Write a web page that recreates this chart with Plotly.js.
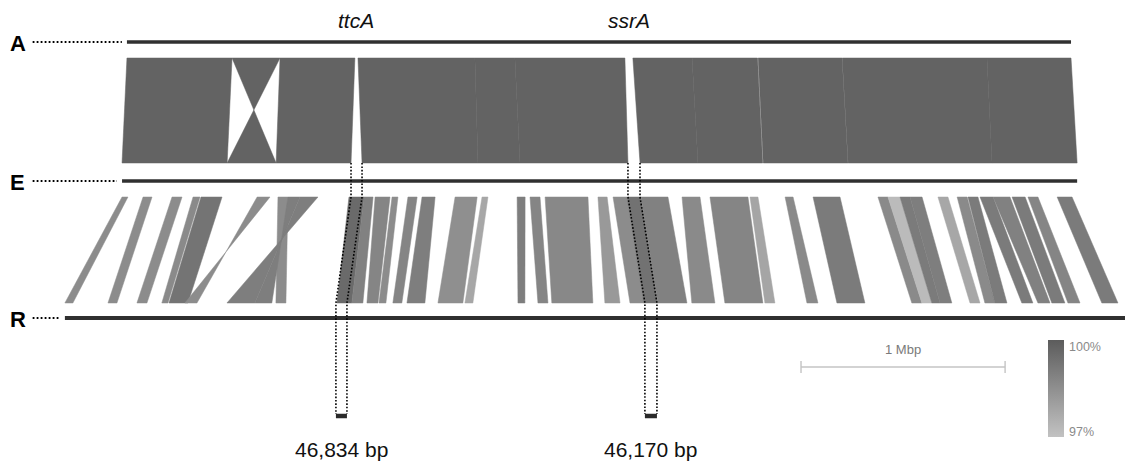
<!DOCTYPE html>
<html><head><meta charset="utf-8">
<script src="https://cdn.plot.ly/plotly-3.0.1.min.js"></script>
<style>html,body{margin:0;padding:0;background:#fff}#chart{width:1125px;height:465px}</style>
</head><body><div id="chart"></div>
<script>
// ---------------- DATA ----------------
const genomeNames = ['A', 'E', 'R'];
const genomeLengthKb = [4626, 4680, 5200];

// A vs E alignment blocks (kb along each genome)
const aeStartA = [0, 515, 750, 1132, 1705, 1901, 2479, 2769, 3093, 3505, 4214];
const aeEndA   = [515, 750, 1117, 1705, 1901, 2440, 2769, 3090, 3504, 4214, 4626];
const aeStartE = [0, 515, 755, 1176, 1744, 1950, 2538, 2822, 3142, 3558, 4263];
const aeEndE   = [515, 755, 1122, 1744, 1950, 2479, 2822, 3139, 3557, 4263, 4680];
const aeInverted = [0, 1, 0, 0, 0, 0, 0, 0, 0, 0, 0];
const aeIdentity = [99.8, 99.8, 99.8, 99.8, 99.8, 99.8, 99.8, 99.8, 99.8, 99.8, 99.8];

// E vs R alignment blocks (kb along each genome)
const erStartE = [0, 103, 245, 348, 387, 662, 764, 813, 872, 1112, 1186, 1240, 1323, 1401, 1470, 1632, 1764, 1936, 1999, 2073, 2332, 2406, 2475, 2543, 2744, 2881, 3077, 3249, 3386, 3704, 3753, 3812, 3861, 3998, 4092, 4145, 4204, 4268, 4361, 4439, 4582];
const erEndE   = [29, 147, 294, 382, 490, 725, 813, 872, 960, 1186, 1230, 1313, 1352, 1446, 1534, 1740, 1793, 1975, 2048, 2283, 2377, 2475, 2543, 2675, 2832, 3067, 3116, 3288, 3518, 3753, 3812, 3861, 3920, 4047, 4141, 4194, 4268, 4351, 4425, 4488, 4655];
const erStartR = [0, 211, 353, 475, 510, 588, 1034, 931, 794, 1333, 1406, 1480, 1539, 1607, 1676, 1828, 1960, 2220, 2318, 2386, 2646, 2769, 2837, 2906, 3072, 3234, 3430, 3636, 3783, 4150, 4199, 4248, 4288, 4435, 4508, 4557, 4689, 4768, 4836, 4915, 5081];
const erEndR   = [39, 255, 402, 505, 603, 647, 1083, 1014, 931, 1406, 1460, 1534, 1573, 1651, 1764, 1950, 1999, 2254, 2367, 2587, 2720, 2837, 2906, 3048, 3185, 3420, 3479, 3690, 3920, 4199, 4248, 4288, 4346, 4484, 4557, 4616, 4743, 4827, 4900, 4974, 5160];
const erInverted = [0, 0, 0, 0, 0, 1, 0, 1, 1, 0, 0, 0, 0, 0, 0, 0, 0, 0, 0, 0, 0, 0, 0, 0, 0, 0, 0, 0, 0, 0, 0, 0, 0, 0, 0, 0, 0, 0, 0, 0, 0];
const erIdentity = [98.6, 98.6, 98.6, 98.65, 99.3, 98.6, 98.6, 99.0, 99.0, 99.6, 98.9, 98.8, 98.6, 98.8, 99.0, 98.5, 97.8, 99.0, 98.8, 98.7, 98.2, 98.6, 99.35, 98.9, 98.65, 98.8, 97.85, 98.65, 99.1, 98.65, 97.2, 99.1, 99.0, 97.8, 98.65, 99.1, 99.1, 98.9, 99.1, 98.8, 99.1];

// genomic islands
const islandNames = ['ttcA', 'ssrA'];
const islandSizeLabels = ['46,834 bp', '46,170 bp'];
const islandStartA = [1117, 2440];
const islandEndA   = [1132, 2479];
const islandStartE = [1122, 2479];
const islandEndE   = [1176, 2538];
const islandStartR = [1328, 2842];
const islandEndR   = [1382, 2901];

const scaleBarKb = 1000;
const scaleBarLabel = '1 Mbp';
const identityRange = [97, 100];
const identityTickLabels = ['97%', '100%'];

// ---------------- LAYOUT CONSTANTS ----------------
const KB_PER_PX = 4.9;
const X_MAX = 1125 * KB_PER_PX;
const genomeOffsetKb = [622, 598, 318];
const genomeY = [42, 181, 318];
const genomeLineW = [3.4, 3.4, 3.8];
const bandAE = [58, 163];
const bandER = [197, 303];
const barY = 416;
const FONT = 'Liberation Sans, Arial, Helvetica, sans-serif';
const grayLow = 194, grayHigh = 92;

function idColor(v) {
  const t = Math.max(0, Math.min(1, (v - identityRange[0]) / (identityRange[1] - identityRange[0])));
  const g = Math.round(grayLow + (grayHigh - grayLow) * t);
  return 'rgb(' + g + ',' + g + ',' + g + ')';
}

const traces = [];
function band(sA, eA, sB, eB, inv, idv, offTop, offBot, yTop, yBot) {
  const xs = inv ? [offTop + sA, offTop + eA, offBot + sB, offBot + eB, offTop + sA]
                 : [offTop + sA, offTop + eA, offBot + eB, offBot + sB, offTop + sA];
  traces.push({
    type: 'scatter', mode: 'lines', x: xs, y: [yTop, yTop, yBot, yBot, yTop],
    fill: 'toself', fillcolor: idColor(idv), line: {width: 0.5, color: idColor(idv)},
    hoverinfo: 'skip'
  });
}
for (let i = 0; i < aeStartA.length; i++) {
  band(aeStartA[i], aeEndA[i], aeStartE[i], aeEndE[i], aeInverted[i], aeIdentity[i],
       genomeOffsetKb[0], genomeOffsetKb[1], bandAE[0], bandAE[1]);
}
for (let i = 0; i < erStartE.length; i++) {
  band(erStartE[i], erEndE[i], erStartR[i], erEndR[i], erInverted[i], erIdentity[i],
       genomeOffsetKb[1], genomeOffsetKb[2], bandER[0], bandER[1]);
}

// genome lines
for (let g = 0; g < 3; g++) {
  traces.push({type: 'scatter', mode: 'lines',
    x: [genomeOffsetKb[g], genomeOffsetKb[g] + genomeLengthKb[g]], y: [genomeY[g], genomeY[g]],
    line: {color: '#303030', width: genomeLineW[g]}, hoverinfo: 'skip'});
  // leader dotted line
  traces.push({type: 'scatter', mode: 'lines',
    x: [160, genomeOffsetKb[g] - 25], y: [genomeY[g], genomeY[g]],
    line: {color: '#000', width: 1.8, dash: '1.8px,2.2px'}, hoverinfo: 'skip'});
}

// island dotted guides and bars
for (let k = 0; k < islandNames.length; k++) {
  const pairs = [[islandStartE[k], islandStartR[k]], [islandEndE[k], islandEndR[k]]];
  pairs.forEach(p => {
    const xe = genomeOffsetKb[1] + p[0], xr = genomeOffsetKb[2] + p[1];
    traces.push({type: 'scatter', mode: 'lines',
      x: [xe, xe, xr, xr], y: [bandAE[1], bandER[0], bandER[1], barY - 2],
      line: {color: '#000', width: 1.6, dash: '1.6px,1.8px'}, hoverinfo: 'skip'});
  });
  traces.push({type: 'scatter', mode: 'lines',
    x: [genomeOffsetKb[2] + islandStartR[k], genomeOffsetKb[2] + islandEndR[k]], y: [barY, barY],
    line: {color: '#2a2a2a', width: 4.5}, hoverinfo: 'skip'});
}

// scale bar
const sbX0 = 3925;
traces.push({type: 'scatter', mode: 'lines',
  x: [sbX0, sbX0 + scaleBarKb, null, sbX0, sbX0, null, sbX0 + scaleBarKb, sbX0 + scaleBarKb],
  y: [367, 367, null, 361, 373, null, 361, 373],
  line: {color: '#c4c4c4', width: 1.4}, hoverinfo: 'skip'});

// colour scale (legend)
traces.push({type: 'scatter', mode: 'markers', x: [-1000, -1000], y: [0, 0],
  marker: {color: identityRange, cmin: identityRange[0], cmax: identityRange[1],
    colorscale: [[0, idColor(identityRange[0])], [1, idColor(identityRange[1])]],
    showscale: true,
    colorbar: {x: 1048 / 1125, xanchor: 'left', xref: 'paper', y: 1 - 388.5 / 465, yanchor: 'middle', yref: 'paper',
      len: 97, lenmode: 'pixels', thickness: 16, thicknessmode: 'pixels',
      outlinewidth: 0, showticklabels: false, ticks: '', xpad: 0, ypad: 0}},
  hoverinfo: 'skip'});

const annotations = [];
for (let g = 0; g < 3; g++) {
  annotations.push({x: 88, y: genomeY[g] + 1, text: '<b>' + genomeNames[g] + '</b>', showarrow: false,
    xanchor: 'center', yanchor: 'middle', font: {family: FONT, size: 22, color: '#000'}});
}
for (let k = 0; k < islandNames.length; k++) {
  annotations.push({x: genomeOffsetKb[0] + (islandStartA[k] + islandEndA[k]) / 2, y: 20,
    text: '<i>' + islandNames[k] + '</i>', showarrow: false, xanchor: 'center', yanchor: 'middle',
    font: {family: FONT, size: 21, color: '#111'}});
  annotations.push({x: genomeOffsetKb[2] + (islandStartR[k] + islandEndR[k]) / 2, y: 449,
    text: islandSizeLabels[k], showarrow: false, xanchor: 'center', yanchor: 'middle',
    font: {family: FONT, size: 21, color: '#111'}});
}
annotations.push({x: sbX0 + scaleBarKb / 2, y: 349, text: scaleBarLabel, showarrow: false,
  xanchor: 'center', yanchor: 'middle', font: {family: FONT, size: 13, color: '#7a7a7a'}});
annotations.push({x: 1067 * KB_PER_PX, y: 347, text: identityTickLabels[1], showarrow: false,
  xanchor: 'left', yanchor: 'middle', font: {family: FONT, size: 12.5, color: '#8a8a8a'}});
annotations.push({x: 1067 * KB_PER_PX, y: 432, text: identityTickLabels[0], showarrow: false,
  xanchor: 'left', yanchor: 'middle', font: {family: FONT, size: 12.5, color: '#8a8a8a'}});

const layout = {
  width: 1125, height: 465, margin: {l: 0, r: 0, t: 0, b: 0},
  paper_bgcolor: '#fff', plot_bgcolor: '#fff', showlegend: false, hovermode: false,
  xaxis: {range: [0, X_MAX], visible: false, fixedrange: true},
  yaxis: {range: [465, 0], visible: false, fixedrange: true},
  annotations: annotations
};
Plotly.newPlot('chart', traces, layout, {staticPlot: true, displayModeBar: false});
</script>
</body></html>
